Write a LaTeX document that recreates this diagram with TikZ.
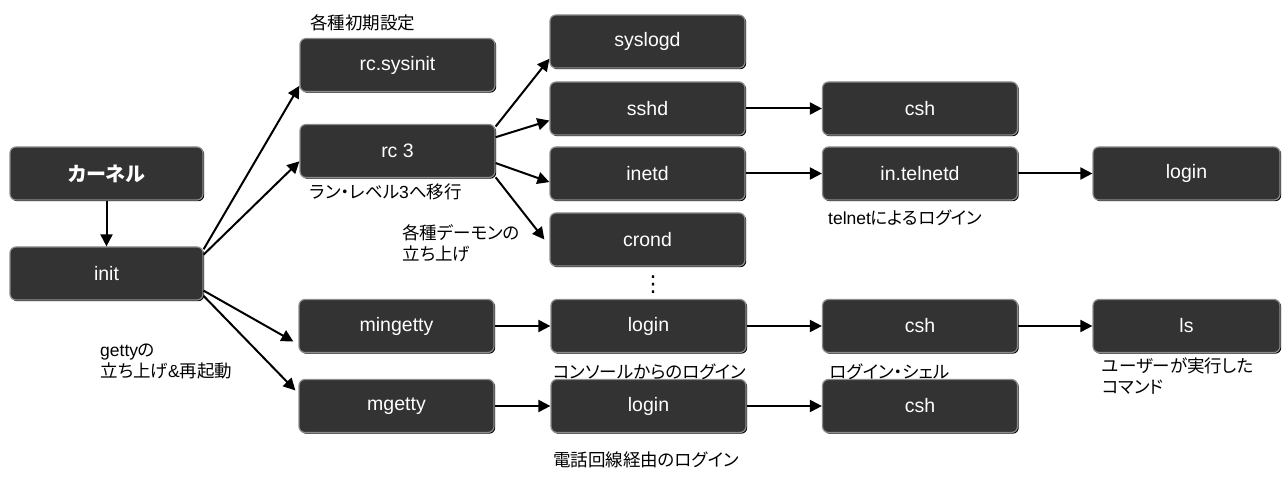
\documentclass[tikz,border=0pt]{standalone}
\usepackage{fontspec}
\setmainfont{Liberation Sans}
\newfontfamily\jp[RawFeature=+palt]{Noto Sans CJK JP}
\newfontfamily\dv{DejaVu Sans}
\usetikzlibrary{arrows.meta,shadows}
\definecolor{boxfill}{RGB}{51,51,51}
\definecolor{boxedge}{RGB}{140,140,140}
\tikzset{
  proc/.style={rectangle, rounded corners=6pt, fill=boxfill, draw=boxedge,
    line width=1.2pt, text=white, font=\fontsize{19.5}{22}\selectfont,
    minimum width=195pt, minimum height=53pt, inner sep=0pt,
    drop shadow={shadow xshift=1.2pt, shadow yshift=-1.2pt, fill=black, opacity=1}},
  lbl/.style={anchor=west, inner sep=0pt, font=\fontsize{17.5}{21}\selectfont, align=left},
  flow/.style={line width=2pt, -{Triangle[length=12pt,width=12pt]}}
}
\begin{document}
\begin{tikzpicture}[x=1pt, y=-1pt]
\useasboundingbox (0,0) rectangle (1282,494);

% process boxes
\node[proc, minimum width=193pt] (kernel) at (106.5,173.5) {\jp\bfseries\fontsize{20}{22}\selectfont カーネル};
\node[proc, minimum width=193pt] (init) at (106.5,273.5) {init};
\node[proc] (sysinit) at (397.5,65) {rc.sysinit};
\node[proc] (rc) at (397.5,151) {rc 3};
\node[proc] (syslogd) at (647.5,41.5) {syslogd};
\node[proc] (sshd) at (647.5,108.5) {sshd};
\node[proc] (inetd) at (647.5,173.5) {inetd};
\node[proc] (crond) at (647.5,239.5) {crond};
\node[proc] (cshA) at (920,108.5) {csh};
\node[proc] (telnetd) at (920,173.5) {in.telnetd};
\node[proc, minimum width=187pt] (loginA) at (1186.5,173.5) {login};
\node[proc] (mingetty) at (396.5,326) {mingetty};
\node[proc] (loginB) at (648.5,326) {login};
\node[proc] (cshB) at (920,326) {csh};
\node[proc, minimum width=187pt] (ls) at (1186.5,326) {ls};
\node[proc] (mgetty) at (396.5,406) {mgetty};
\node[proc] (loginC) at (648.5,406) {login};
\node[proc] (cshC) at (920,406) {csh};

\node[inner sep=0pt, font=\dv\fontsize{22}{22}\selectfont] (more) at (653,285) {⋮};

% captions
\node[lbl] (capSys) at (310,23) {\jp 各種初期設定};
\node[lbl] (capRc) at (310,192) {\jp ラン・レベル{\rmfamily 3}へ移行};
\node[lbl, anchor=north west] (capDaemon) at (402,224) {\jp 各種デーモンの\\\jp 立ち上げ};
\node[lbl] (capTelnet) at (828,218) {telnet{\jp によるログイン}};
\node[lbl] (capConsole) at (553,372) {\jp コンソールからのログイン};
\node[lbl] (capShell) at (830,372) {\jp ログイン・シェル};
\node[lbl, anchor=north west] (capCmd) at (1102,357) {\jp ユーザーが実行した\\\jp コマンド};
\node[lbl] (capPhone) at (553,460) {\jp 電話回線経由のログイン};
\node[lbl, anchor=north west] (capGetty) at (100,344) {getty{\jp の}\\{\jp 立ち上げ}\&{\jp 再起動}};

% connectors
\draw[flow] (kernel) -- (init);
\draw[flow] (init.14) -- (sysinit.192);
\draw[flow] (init.11) -- (rc.186);
\draw[flow] (init.-10) -- ([xshift=-5pt]mingetty.189);
\draw[flow] (init.-13) -- ([xshift=-3pt]mgetty.171);
\draw[flow] (rc.14) -- (syslogd.190);
\draw[flow] (rc.8) -- (sshd.187);
\draw[flow] (rc.-7) -- (inetd.185);
\draw[flow] (rc.-15) -- ([xshift=-5pt]crond.180);
\draw[flow] (sshd) -- (cshA);
\draw[flow] (inetd) -- (telnetd);
\draw[flow] (telnetd) -- (loginA);
\draw[flow] (mingetty) -- (loginB);
\draw[flow] (loginB) -- (cshB);
\draw[flow] (cshB) -- (ls);
\draw[flow] (mgetty) -- (loginC);
\draw[flow] (loginC) -- (cshC);
\end{tikzpicture}
\end{document}
